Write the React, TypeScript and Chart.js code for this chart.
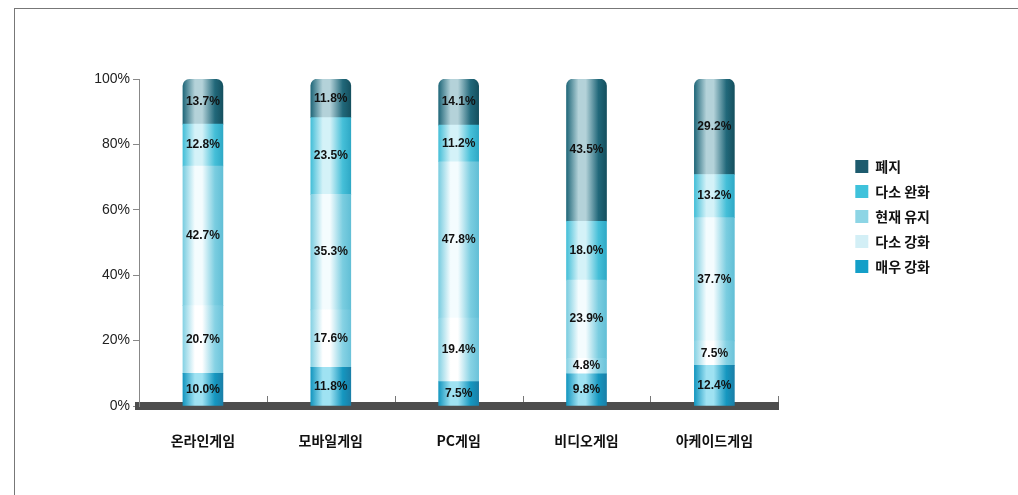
import React, { useEffect, useRef } from 'react';
import { Chart, registerables } from 'chart.js';
Chart.register(...registerables);

const categories = ['온라인게임', '모바일게임', 'PC게임', '비디오게임', '아케이드게임'];
const seriesNames = ['매우 강화', '다소 강화', '현재 유지', '다소 완화', '폐지'];
const veryStrong = [10.0, 11.8, 7.5, 9.8, 12.4];
const someStrong = [20.7, 17.6, 19.4, 4.8, 7.5];
const keepCurrent = [42.7, 35.3, 47.8, 23.9, 37.7];
const someRelax = [12.8, 23.5, 11.2, 18.0, 13.2];
const abolish = [13.7, 11.8, 14.1, 43.5, 29.2];
const yMin = 0;
const yMax = 100;
const yStep = 20;

const legendColors = ['#149fc8', '#d3eff6', '#8dd5e5', '#3fc2db', '#1d5b6e'];
const edgeColors = ['#1597c0', '#86d2e4', '#7acde0', '#45bfd8', '#21687a'];
const lightColors = ['#9fe2f2', '#ffffff', '#f4fcfe', '#d4f2f8', '#b4d2d9'];
const darkEdge = ['#1a7fa8', '#6cc3da', '#62bfd6', '#2fa9c6', '#15505f'];

const BAR_W = 40;

function segFill(i: number) {
  return (ctx: any) => {
    if (ctx.type !== 'data') return legendColors[i];
    const chart = ctx.chart;
    const xs = chart.scales && chart.scales.x;
    if (!xs || !chart.chartArea) return legendColors[i];
    const cx = xs.getPixelForValue(ctx.dataIndex);
    const g = chart.ctx.createLinearGradient(cx - BAR_W / 2, 0, cx + BAR_W / 2, 0);
    g.addColorStop(0, edgeColors[i]);
    g.addColorStop(0.3, lightColors[i]);
    g.addColorStop(0.48, lightColors[i]);
    g.addColorStop(0.8, edgeColors[i]);
    g.addColorStop(1, darkEdge[i]);
    return g;
  };
}

const segLabels = {
  id: 'segLabels',
  afterDatasetsDraw(chart: any) {
    const c = chart.ctx;
    c.save();
    c.font = 'bold 12px "Liberation Sans", Arial, sans-serif';
    c.fillStyle = '#111';
    c.textAlign = 'center';
    c.textBaseline = 'middle';
    chart.data.datasets.forEach((ds: any, di: number) => {
      chart.getDatasetMeta(di).data.forEach((el: any, i: number) => {
        const p = el.getProps(['x', 'y', 'base'], true);
        c.fillText(Number(ds.data[i]).toFixed(1) + '%', p.x, (p.y + p.base) / 2);
      });
    });
    c.restore();
  },
};

const xTicksUp = {
  id: 'xTicksUp',
  afterDraw(chart: any) {
    const xs = chart.scales.x;
    const c = chart.ctx;
    const b = chart.chartArea.bottom;
    c.save();
    c.strokeStyle = '#777';
    c.lineWidth = 1;
    for (let k = 1; k <= categories.length; k++) {
      const x = Math.round(xs.getPixelForValue(k - 0.5)) + 0.5;
      c.beginPath();
      c.moveTo(x, b - 4);
      c.lineTo(x, b - 10);
      c.stroke();
    }
    c.restore();
  },
};

export default function App() {
  const ref = useRef<HTMLCanvasElement>(null);
  useEffect(() => {
    const series = [veryStrong, someStrong, keepCurrent, someRelax, abolish];
    const chart = new Chart(ref.current as HTMLCanvasElement, {
      type: 'bar',
      data: {
        labels: categories,
        datasets: series.map((d, i) => ({
          label: seriesNames[i],
          data: d,
          backgroundColor: segFill(i) as any,
          borderWidth: 0,
          barThickness: BAR_W,
          borderRadius: i === series.length - 1 ? { topLeft: 7, topRight: 7, bottomLeft: 0, bottomRight: 0 } : 0,
          borderSkipped: false,
        })),
      },
      options: {
        responsive: false,
        animation: false,
        layout: { padding: { left: 0, top: 79, right: 78, bottom: 39 } },
        plugins: {
          tooltip: { enabled: false },
          legend: {
            position: 'right',
            align: 'start',
            reverse: true,
            title: { display: true, text: ' ', padding: { top: 55, bottom: 0 }, font: { size: 12 } },
            labels: {
              boxWidth: 13,
              boxHeight: 13,
              padding: 11,
              color: '#111',
              font: { family: '"Noto Sans CJK KR", sans-serif', size: 14, weight: 'bold' },
              generateLabels: (chart: any) => {
                const items = Chart.defaults.plugins.legend.labels.generateLabels(chart);
                return items.map((it: any) => ({ ...it, fillStyle: legendColors[it.datasetIndex], strokeStyle: legendColors[it.datasetIndex], lineWidth: 0 }));
              },
            },
          },
        },
        scales: {
          x: {
            stacked: true,
            z: 1,
            grid: { display: false },
            border: { display: true, color: '#4d4d4d', width: 8 },
            ticks: {
              color: '#111',
              padding: 18,
              maxRotation: 0,
              autoSkip: false,
              font: { family: '"Noto Sans CJK KR", sans-serif', size: 14, weight: 'bold' },
            },
            afterFit: (s: any) => { s.height = 50; },
          },
          y: {
            stacked: true,
            min: yMin,
            max: yMax,
            grid: { drawOnChartArea: false, drawTicks: true, tickLength: 6, color: '#888' },
            border: { display: true, color: '#888', width: 1 },
            ticks: {
              stepSize: yStep,
              color: '#222',
              padding: 3,
              font: { family: '"Liberation Sans", Arial, sans-serif', size: 14 },
              callback: (v: any) => v + '%',
            },
            afterFit: (s: any) => { s.width = 139; },
          },
          spacer: {
            type: 'linear',
            position: 'right',
            display: true,
            grid: { display: false },
            border: { display: false },
            ticks: { display: false },
            afterFit: (s: any) => { s.width = 66; },
          },
        },
      },
      plugins: [segLabels, xTicksUp],
    } as any);
    return () => chart.destroy();
  }, []);

  return (
    <div style={{ position: 'absolute', left: 0, top: 0, width: 1018, height: 495, background: '#fff', overflow: 'hidden' }}>
      <div style={{ position: 'absolute', left: 14, top: 8, width: 1010, height: 500, borderLeft: '1px solid #777', borderTop: '1px solid #777' }} />
      <canvas ref={ref} width={1018} height={495} style={{ position: 'absolute', left: 0, top: 0, width: 1018, height: 495 }} />
    </div>
  );
}
